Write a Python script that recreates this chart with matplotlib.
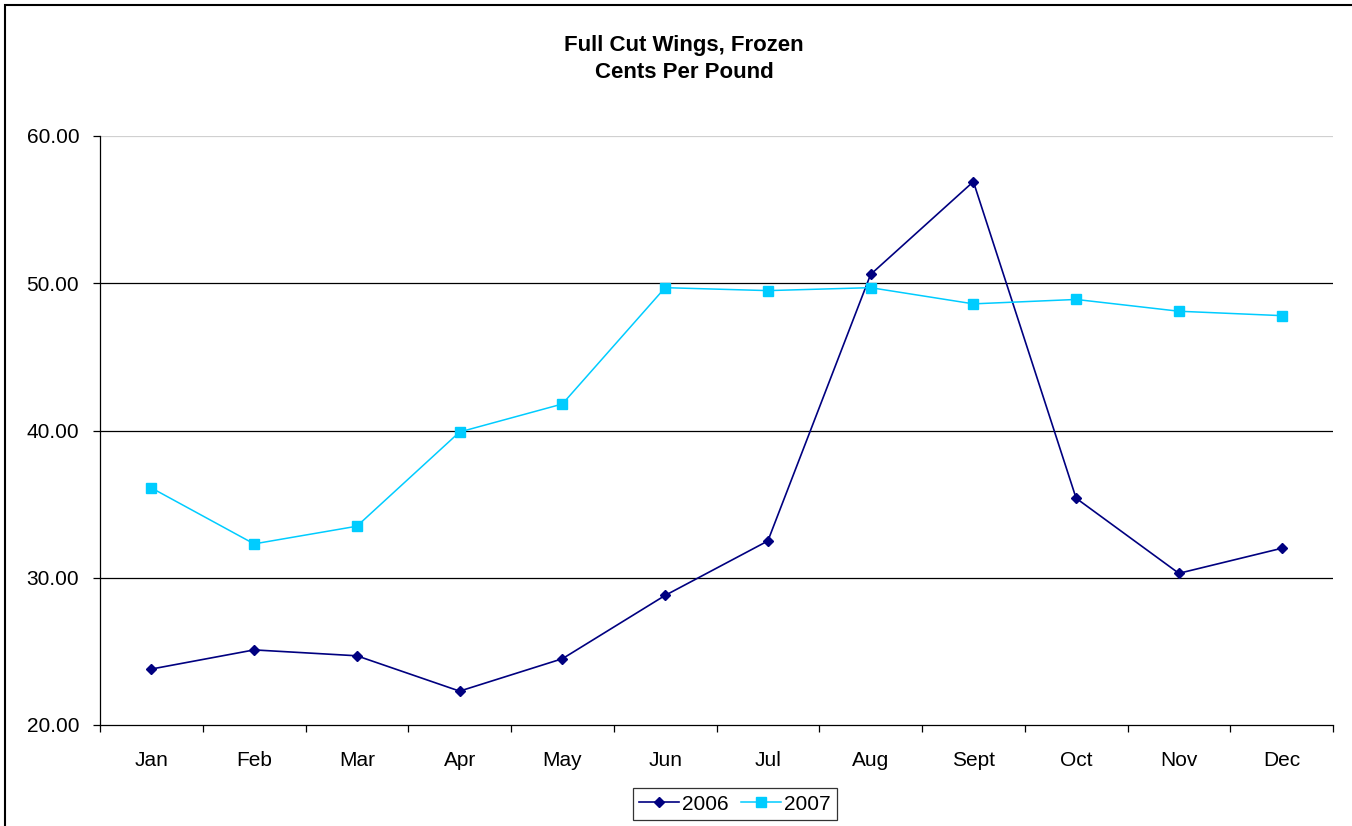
import numpy as np
import matplotlib.pyplot as plt
from matplotlib.patches import Rectangle

plt.rcParams['font.family'] = ['Liberation Sans', 'DejaVu Sans']

months = ["Jan", "Feb", "Mar", "Apr", "May", "Jun", "Jul", "Aug", "Sept", "Oct", "Nov", "Dec"]
wings_2006 = [23.8, 25.1, 24.7, 22.3, 24.5, 28.8, 32.5, 50.6, 56.9, 35.4, 30.3, 32.0]
wings_2007 = [36.1, 32.3, 33.5, 39.9, 41.8, 49.7, 49.5, 49.7, 48.6, 48.9, 48.1, 47.8]
y_ticks = [20, 30, 40, 50, 60]

fig = plt.figure(figsize=(13.52, 8.26), dpi=100)
ax = fig.add_axes([100 / 1352, 1 - 725 / 826, 1233 / 1352, 589 / 826])

# outer chart border
fig.patches.append(Rectangle((5 / 1352, -0.1), 1.2, 1 - 5 / 826 + 0.1,
                             transform=fig.transFigure, fill=False,
                             edgecolor="black", linewidth=1.5))

x = np.arange(len(months))
for v in y_ticks[1:-1]:
    ax.axhline(v, color="black", linewidth=0.9, zorder=1)
ax.axhline(60, color="#d0d0d0", linewidth=0.9, zorder=1)

ax.plot(x, wings_2006, color="#000080", marker="D", markersize=5.5,
        linewidth=1.2, label="2006", zorder=3)
ax.plot(x, wings_2007, color="#00CCFF", marker="s", markersize=7,
        linewidth=1.1, label="2007", zorder=3)

ax.set_xlim(-0.5, len(months) - 0.5)
ax.set_ylim(20, 60)
ax.set_yticks(y_ticks)
ax.set_yticklabels([f"{v:.2f}" for v in y_ticks])
ax.set_xticks(np.arange(-0.5, len(months)), labels=[])
ax.set_xticks(x, labels=months, minor=True)
ax.tick_params(axis="x", which="major", direction="out", length=5, width=0.9)
ax.tick_params(axis="x", which="minor", length=0, pad=19, labelsize=15)
ax.tick_params(axis="y", direction="out", length=5, width=0.9, labelsize=15, pad=10)

for side in ("top", "right"):
    ax.spines[side].set_visible(False)
for side in ("left", "bottom"):
    ax.spines[side].set_linewidth(0.9)

fig.text(0.506, 1 - 59 / 826, "Full Cut Wings, Frozen\nCents Per Pound",
         ha="center", va="center", fontsize=16, fontweight="bold", linespacing=1.35)

fig.legend(loc="center", bbox_to_anchor=(735 / 1352, 1 - 804 / 826), ncol=2,
           fontsize=15, frameon=True, fancybox=False, edgecolor="black",
           handlelength=1.9, handletextpad=0.15, columnspacing=0.6,
           borderpad=0.3).get_frame().set_linewidth(0.9)

fig.savefig("out.png", dpi=100)
